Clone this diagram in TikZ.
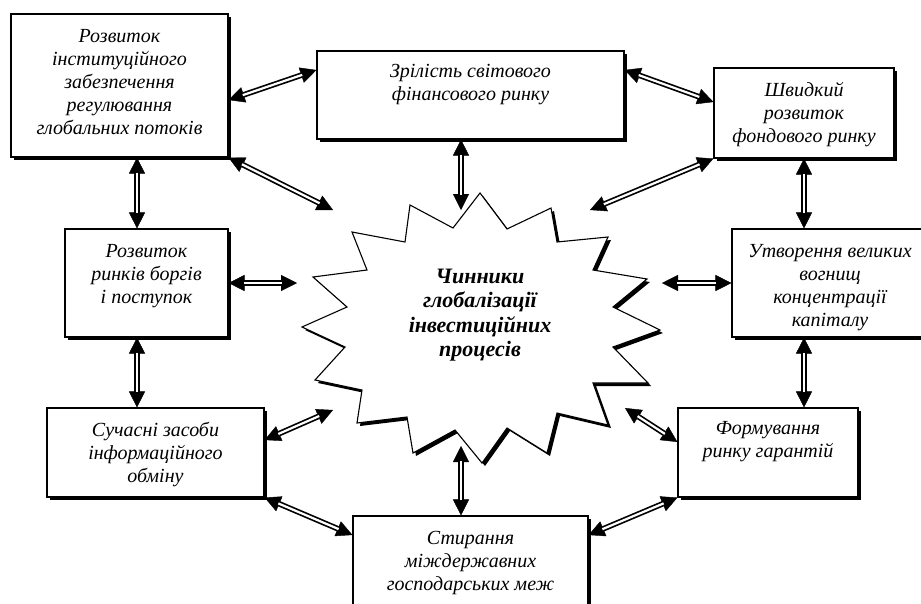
\documentclass[tikz,border=0pt]{standalone}
\usepackage{fontspec}
\setmainfont{Liberation Serif}
\usetikzlibrary{positioning,shadows,arrows.meta}

\begin{document}
\begin{tikzpicture}[x=1pt,y=-1pt,
  box/.style={draw,line width=1.1pt,fill=white,
    drop shadow={shadow xshift=3pt,shadow yshift=-3pt,opacity=1,fill=black}},
  txt/.style={align=center,inner sep=0pt,
    font=\fontsize{20}{23}\selectfont\itshape},
  core/.style={align=center,inner sep=0pt,
    font=\fontsize{22}{24.5}\selectfont\bfseries\itshape},
  link/.style={line width=5.6pt,>={Triangle[length=16pt,width=16pt,line width=0.4pt]},<->,
    postaction={draw=white,line width=2.2pt,-,shorten <=15pt,shorten >=15pt}}]
\useasboundingbox (0,0) rectangle (921,603);

% boxes
\node[box,minimum width=217,minimum height=143] (inst) at (119.5,85.5) {};
\node[box,minimum width=307,minimum height=88] (matur) at (470.5,95) {};
\node[box,minimum width=180,minimum height=90] (fond) at (804,113) {};
\node[box,minimum width=163,minimum height=108] (borg) at (146.5,283) {};
\node[box,minimum width=196,minimum height=108] (capit) at (830,283) {};
\node[box,minimum width=217,minimum height=89] (info) at (155.5,452.5) {};
\node[box,minimum width=180,minimum height=89] (garant) at (768,452.5) {};
\node[box,minimum width=235,minimum height=108] (bord) at (470.5,570) {};

\node[txt,below=16pt of inst.north] (inst-t)
  {Розвиток\\інституційного\\забезпечення\\регулювання\\глобальних потоків};
\node[txt,below=14pt of matur.north] (matur-t) {Зрілість світового\\фінансового ринку};
\node[txt,below=15pt of fond.north] (fond-t) {Швидкий\\розвиток\\фондового ринку};
\node[txt,below=16pt of borg.north] (borg-t) {Розвиток\\ринків боргів\\і поступок};
\node[txt,below=16pt of capit.north] (capit-t)
  {Утворення великих\\вогнищ\\концентрації\\капіталу};
\node[txt,below=15pt of info.north] (info-t) {Сучасні засоби\\інформаційного\\обміну};
\node[txt,below=14pt of garant.north] (garant-t) {Формування\\ринку гарантій};
\node[txt,below=16pt of bord.north] (bord-t) {Стирання\\міждержавних\\господарських меж};

% star
\draw[box] (480,193) -- (507,229) -- (551,208) -- (557,242) -- (608,237)
  -- (593,270) -- (647,279) -- (613,307) -- (660,330) -- (613,347)
  -- (648,383) -- (593,383) -- (608,425) -- (557,413) -- (547,453)
  -- (507,428) -- (482,463) -- (455,430) -- (413,453) -- (407,417)
  -- (357,423) -- (362,390) -- (315,380) -- (345,347) -- (302,327)
  -- (347,307) -- (313,277) -- (367,270) -- (352,232) -- (405,242)
  -- (410,205) -- (453,228) -- cycle;
\node[core] (core) at (480,315)
  {Чинники\\глобалізації\\інвестиційних\\процесів};

\coordinate (s-nw) at (333,210);
\coordinate (s-n) at (461,210);
\coordinate (s-ne) at (590,210);
\coordinate (s-w) at (297,283);
\coordinate (s-e) at (662,283);
\coordinate (s-sw) at (333,410);
\coordinate (s-s) at (461,446);
\coordinate (s-se) at (625,408);

% connectors
\draw[link] ([yshift=-14.5]inst.east) -- ([yshift=25]matur.west);
\draw[link] (inst.south east) -- (s-nw);
\draw[link] ([xshift=17.5]inst.south) -- ([xshift=-9.5]borg.north);
\draw[link] ([xshift=-9.5]matur.south) -- (s-n);
\draw[link] ([yshift=25]matur.east) -- ([yshift=11]fond.west);
\draw[link] (fond.south west) -- (s-ne);
\draw[link] (fond.south) -- (fond.south |- capit.north);
\draw[link] (borg.east) -- (s-w);
\draw[link] (capit.west) -- (s-e);
\draw[link] ([xshift=-9.5]borg.south) -- ([xshift=-18.5]info.north);
\draw[link] (capit.south -| fond.south) -- (garant.north -| fond.south);
\draw[link] ([yshift=12.5]info.east) -- (s-sw);
\draw[link] (info.south east) -- ([yshift=35]bord.west);
\draw[link] (s-s) -- (bord.north -| s-s);
\draw[link] (s-se) -- ([yshift=10.5]garant.west);
\draw[link] (garant.south west) -- ([yshift=35]bord.east);
\end{tikzpicture}
\end{document}
